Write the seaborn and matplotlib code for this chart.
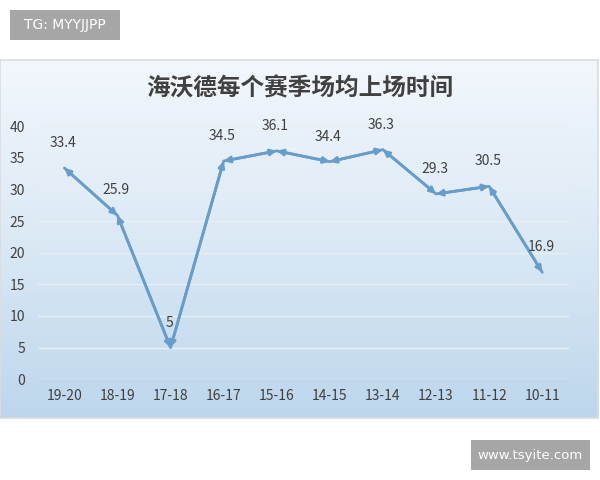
import numpy as np
import pandas as pd
import matplotlib
matplotlib.use('Agg')
import matplotlib.pyplot as plt
import seaborn as sns
from matplotlib.patches import Rectangle

seasons = ['19-20', '18-19', '17-18', '16-17', '15-16', '14-15', '13-14', '12-13', '11-12', '10-11']
minutes = [33.4, 25.9, 5, 34.5, 36.1, 34.4, 36.3, 29.3, 30.5, 16.9]
y_ticks = [0, 5, 10, 15, 20, 25, 30, 35, 40]
title = '海沃德每个赛季场均上场时间'

df = pd.DataFrame({'season': seasons, 'minutes': minutes})
df['pos'] = range(len(df))

sns.set_theme(style='white')
plt.rcParams['font.family'] = ['Noto Sans CJK SC', 'DejaVu Sans']

line_color = '#679dcb'
text_color = '#404040'

fig = plt.figure(figsize=(6, 4.8), dpi=100)
fig.patch.set_facecolor('white')

# panel with a soft blue gradient
bg = fig.add_axes([0.0, 1 - 418 / 480, 0.997, 358 / 480])
grad = np.linspace(0, 1, 256).reshape(-1, 1)
cmap = matplotlib.colors.LinearSegmentedColormap.from_list('bg', ['#f2f7fc', '#dbe9f5', '#bdd6ec'])
bg.imshow(grad, aspect='auto', cmap=cmap, extent=[0, 1, 0, 1], origin='upper')
bg.set_xticks([])
bg.set_yticks([])
for s in bg.spines.values():
    s.set_color('#d8dde2')
    s.set_linewidth(1.2)

ax = fig.add_axes([0.063, 0.21, 0.885, 0.527])
ax.set_facecolor('none')
sns.lineplot(data=df, x='pos', y='minutes', ax=ax, color=line_color, linewidth=2)

# double-headed arrow on every segment
for i in range(len(df) - 1):
    ax.annotate('', xy=(df['pos'][i + 1], df['minutes'][i + 1]),
                xytext=(df['pos'][i], df['minutes'][i]),
                arrowprops=dict(arrowstyle='<|-|>', color=line_color, lw=2,
                                mutation_scale=9, shrinkA=0, shrinkB=0))

for p, v in zip(df['pos'], df['minutes']):
    ax.annotate(f'{v:g}', (p, v), xytext=(-1, 13), textcoords='offset points',
                ha='center', va='bottom', fontsize=10, color=text_color)

ax.set_xlim(-0.5, len(df) - 0.5)
ax.set_ylim(0, 40)
ax.set_yticks(y_ticks)
ax.set_xticks(df['pos'])
ax.set_xticklabels(seasons)
ax.tick_params(axis='both', labelsize=10, colors=text_color, length=0)
ax.tick_params(axis='x', pad=7)
ax.tick_params(axis='y', pad=9)
ax.set_xlabel('')
ax.set_ylabel('')
ax.grid(axis='y', color='#e9eef3', linewidth=1)
ax.set_axisbelow(True)
for s in ax.spines.values():
    s.set_visible(False)

fig.text(0.5, 1 - 88 / 480, title, ha='center', va='center', fontsize=17,
         fontweight='bold', color=text_color)

# corner tags
fig.add_artist(Rectangle((10 / 600, 1 - 40 / 480), 110 / 600, 30 / 480,
                         transform=fig.transFigure, facecolor='#a6a6a6', edgecolor='none'))
fig.text(65 / 600, 1 - 25 / 480, 'TG: MYYJJPP', ha='center', va='center',
         fontsize=10, color='white', family='DejaVu Sans')
fig.add_artist(Rectangle((471 / 600, 1 - 470 / 480), 119 / 600, 30 / 480,
                         transform=fig.transFigure, facecolor='#a6a6a6', edgecolor='none'))
fig.text(530.5 / 600, 1 - 455 / 480, 'www.tsyite.com', ha='center', va='center',
         fontsize=9.5, color='white', family='DejaVu Sans')

fig.savefig('out.png', dpi=100)
